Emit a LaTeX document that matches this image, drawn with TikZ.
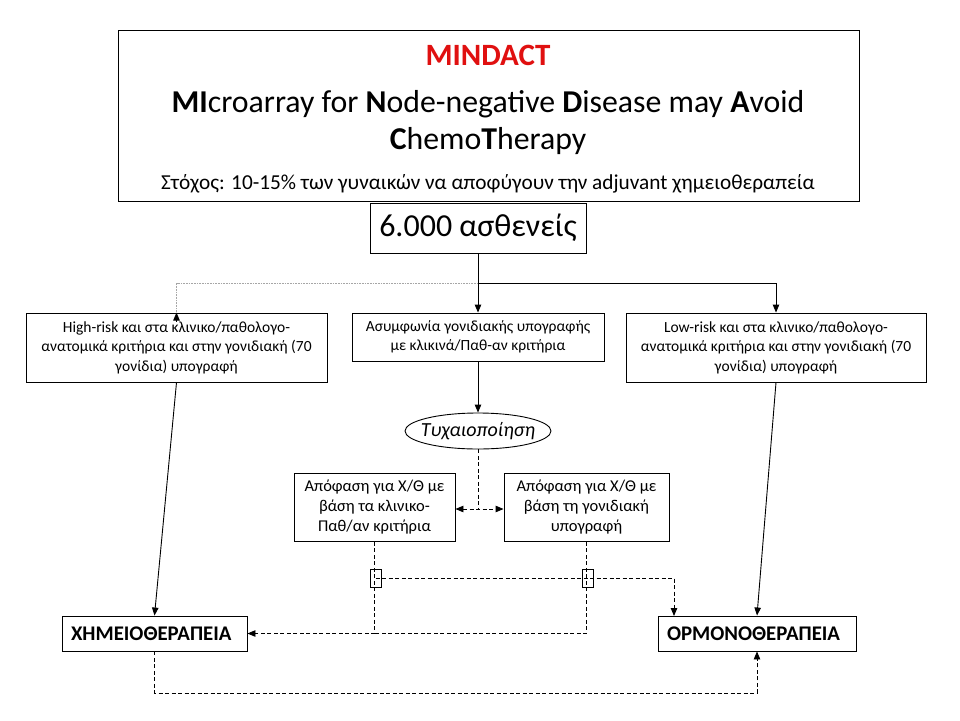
\documentclass[tikz,border=0pt]{standalone}
\usepackage{fontspec}
\setmainfont{Carlito}
\usetikzlibrary{arrows.meta,shapes.geometric,calc}
\definecolor{titlered}{RGB}{224,16,16}
\tikzset{
  box/.style={draw, line width=0.9pt, inner sep=0pt, align=center},
  conn/.style={line width=0.9pt, -{Triangle[length=8pt,width=6.5pt]}},
  dconn/.style={line width=0.9pt, dash pattern=on 4pt off 2.5pt},
  small/.style={font=\fontsize{15.5}{19.5}\selectfont},
  dec/.style={font=\fontsize{16.5}{20}\selectfont},
  therapy/.style={draw, line width=0.9pt, inner xsep=9pt, inner ysep=0pt, minimum height=35pt, align=left, font=\fontsize{20.8}{23}\selectfont\bfseries},
  jumper/.style={draw, line width=0.7pt, minimum width=11pt, minimum height=18pt, inner sep=0pt},
  tip/.style={-{Triangle[length=8pt,width=6.5pt]}},
  bothtip/.style={{Triangle[length=8pt,width=6.5pt]}-{Triangle[length=8pt,width=6.5pt]}}
}
\begin{document}
\begin{tikzpicture}[x=1pt,y=-1pt]
\useasboundingbox (0,0) rectangle (960,720);
% title box
\node[box, minimum width=741pt, minimum height=171pt] (title) at (488.5,115.5) {};
\node[font=\fontsize{31}{34}\selectfont\bfseries, text=titlered] (t1) at (488,55) {MINDACT};
\node[font=\fontsize{31.8}{35}\selectfont] (t2) at (488,104) {\textbf{MI}croarray for \textbf{N}ode-negative \textbf{D}isease may \textbf{A}void};
\node[font=\fontsize{31.8}{35}\selectfont] (t3) at (488,141) {\textbf{C}hemo\textbf{T}herapy};
\node[font=\fontsize{21.3}{24}\selectfont] (t4) at (488,184) {Στόχος: 10-15\% των γυναικών να αποφύγουν την adjuvant χημειοθεραπεία};
% patients
\node[box, minimum width=216pt, minimum height=50pt, font=\fontsize{32}{35}\selectfont] (pat) at (478,228) {6.000 ασθενείς};
% three boxes
\node[box, small, minimum width=301pt, minimum height=69pt] (high) at (176.5,347.5) {High-risk και στα κλινικο/παθολογο-\\ανατομικά κριτήρια και στην γονιδιακή (70\\γονίδια) υπογραφή};
\node[box, small, minimum width=252pt, minimum height=48pt] (mid) at (478,337) {Ασυμφωνία γονιδιακής υπογραφής\\με κλικινά/Παθ-αν κριτήρια};
\node[box, small, minimum width=300pt, minimum height=69pt] (low) at (776,347.5) {Low-risk και στα κλινικο/παθολογο-\\ανατομικά κριτήρια και στην γονιδιακή (70\\γονίδια) υπογραφή};
% randomisation
\node[draw, ellipse, line width=0.9pt, minimum width=146pt, minimum height=36pt, inner sep=0pt, font=\fontsize{20}{24}\selectfont\itshape] (rand) at (478,431) {\makebox[0pt]{Τυχαιοποίηση}};
% decision boxes
\node[box, dec, minimum width=161pt, minimum height=68pt] (dec1) at (374.5,507.5) {Απόφαση για Χ/Θ με\\βάση τα κλινικο-\\Παθ/αν κριτήρια};
\node[box, dec, minimum width=165pt, minimum height=68pt] (dec2) at (586.5,507.5) {Απόφαση για Χ/Θ με\\βάση τη γονιδιακή\\υπογραφή};
% outcomes
\node[therapy, text width=167pt] (chemo) at (154.5,633.5) {ΧΗΜΕΙΟΘΕΡΑΠΕΙΑ};
\node[therapy, text width=180pt] (horm) at (757,633.5) {ΟΡΜΟΝΟΘΕΡΑΠΕΙΑ};
% jumpers
\node[jumper] (j1) at (375.5,578) {};
\node[jumper] (j2) at (587.5,578) {};
\coordinate (split) at (478,283);
\coordinate (hormin) at (674,616);
% connectors from patients
\draw[line width=0.9pt] (pat.south) -- (split);
\draw[conn] (split) -- (mid.north);
\draw[conn] (split) -| (low.north);
\draw[line width=0.8pt, gray!70, dash pattern=on 1pt off 0.6pt] (split) -| ([yshift=-9pt]high.north);
\draw[line width=0.9pt, tip] ([yshift=-9pt]high.north) -- (high.north);
\draw[conn] (mid.south) -- (rand.north);
% direct treatments
\draw[conn] (high.south) -- (chemo.north);
\draw[conn] (low.south) -- (horm.north);
% randomisation split
\coordinate (rsplit) at (478,509);
\draw[dconn] (rand.south) -- (rsplit);
\draw[dconn, bothtip] (dec1.east |- rsplit) -- (dec2.west |- rsplit);
% decisions to therapies
\draw[dconn, tip] (dec1.south) |- (chemo.east);
\draw[dconn] (dec2.south) |- (dec1.south |- chemo.east);
\draw[dconn, tip] (j1.center) -| (hormin);
\draw[dconn, tip] (chemo.south) -- ++(0,41.5) -| (horm.south);
\end{tikzpicture}
\end{document}
